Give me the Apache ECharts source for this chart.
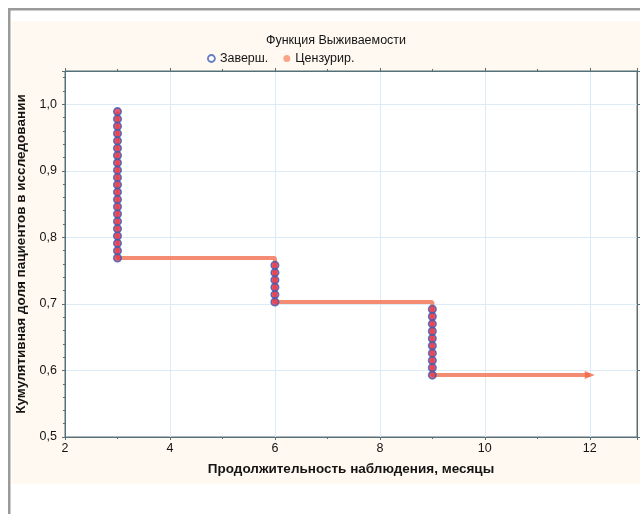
<!DOCTYPE html>
<html>
<head>
<meta charset="utf-8">
<script src="https://cdn.jsdelivr.net/npm/echarts@6/dist/echarts.min.js"></script>
<style>
html,body{margin:0;padding:0;background:#fff;}
#c{width:640px;height:514px;}
</style>
</head>
<body>
<div id="c"></div>
<script>
// Data
const titleText = 'Функция Выживаемости';
const xAxisName = 'Продолжительность наблюдения, месяцы';
const yAxisName = 'Кумулятивная доля пациентов в исследовании';
const completeName = 'Заверш.';
const censoredName = 'Цензурир.';
// completed events (x = month, y = cumulative survival)
const completeX3 = [0.989,0.978,0.967,0.956,0.945,0.934,0.923,0.912,0.901,0.890,0.879,0.868,0.857,0.846,0.835,0.824,0.813,0.802,0.791,0.780,0.769];
const completeX6 = [0.758,0.747,0.736,0.725,0.714,0.703];
const completeX9 = [0.692,0.681,0.670,0.659,0.648,0.637,0.626,0.615,0.604,0.593];
const eventTimes = [3, 6, 9];
// survival step curve
const stepX = [3, 3, 6, 6, 9, 9, 12];
const stepY = [0.989, 0.769, 0.769, 0.703, 0.703, 0.593, 0.593];
// censored observation
const censoredX = [12];
const censoredY = [0.593];

const completeGroups = [completeX3, completeX6, completeX9];
const completeData = [];
completeGroups.forEach((g, i) => g.forEach(v => completeData.push([eventTimes[i], v])));
const stepData = stepX.map((x, i) => [x, stepY[i]]);
const censData = censoredX.map((x, i) => [x, censoredY[i]]);

const axisColor = '#56707a';
const gridColor = '#dcebf5';
const txt = '#141414';
const font = 'Liberation Sans, Arial, sans-serif';

const chart = echarts.init(document.getElementById('c'));
chart.setOption({
  animation: false,
  textStyle: {fontFamily: font},
  graphic: [
    {type: 'rect', z: -10, shape: {x: 12, y: 21, width: 628, height: 463}, style: {fill: '#fff9f1'}},
    {type: 'rect', z: -9, shape: {x: 8, y: 8, width: 2.5, height: 506}, style: {fill: '#9a9a9a'}},
    {type: 'rect', z: -9, shape: {x: 8, y: 8, width: 632, height: 2.5}, style: {fill: '#9a9a9a'}}
  ],
  title: {
    text: titleText, left: 331, top: 29, textAlign: 'center',
    textStyle: {fontSize: 12.5, fontWeight: 'normal', color: txt, fontFamily: font}
  },
  legend: {
    left: 202, top: 47, itemWidth: 7, itemHeight: 7, itemGap: 15,
    textStyle: {fontSize: 12.5, color: txt, fontFamily: font},
    data: [
      {name: completeName, icon: 'circle', itemStyle: {color: '#ffffff', borderColor: '#3b5fb5', borderWidth: 1.8}},
      {name: censoredName, icon: 'circle', itemStyle: {color: '#f8906e', borderWidth: 0}}
    ]
  },
  grid: {left: 65, right: 3, top: 71, bottom: 77, show: true, backgroundColor: '#ffffff', borderColor: axisColor, borderWidth: 1},
  xAxis: [{
    type: 'value', min: 2, max: 12.9, interval: 2,
    name: xAxisName, nameLocation: 'middle', nameGap: 25,
    nameTextStyle: {fontSize: 13.5, fontWeight: 'bold', color: txt, fontFamily: font},
    axisLine: {show: true, lineStyle: {color: axisColor}},
    axisTick: {show: true, length: 3, lineStyle: {color: axisColor}},
    minorTick: {show: true, splitNumber: 2, length: 2, lineStyle: {color: axisColor}},
    axisLabel: {fontSize: 12.5, color: txt, margin: 5, showMaxLabel: false,
      formatter: v => (Math.abs(v % 2) < 1e-9 ? String(v) : '')},
    splitLine: {show: true, lineStyle: {color: gridColor}}
  }, {
    type: 'value', min: 2, max: 12.9, interval: 2, position: 'top',
    axisLine: {show: true, lineStyle: {color: axisColor}},
    axisTick: {show: true, length: 3, lineStyle: {color: axisColor}},
    minorTick: {show: true, splitNumber: 2, length: 2, lineStyle: {color: axisColor}},
    axisLabel: {show: false}, splitLine: {show: false}
  }],
  yAxis: [{
    type: 'value', min: 0.5, max: 1.05, interval: 0.1,
    name: yAxisName, nameLocation: 'middle', nameGap: 34, nameRotate: 90,
    nameTextStyle: {fontSize: 13.5, fontWeight: 'bold', color: txt, fontFamily: font},
    axisLine: {show: true, lineStyle: {color: axisColor}},
    axisTick: {show: true, length: 3, lineStyle: {color: axisColor}},
    minorTick: {show: true, splitNumber: 5, length: 2, lineStyle: {color: axisColor}},
    axisLabel: {fontSize: 12.5, color: txt, margin: 8, showMaxLabel: false,
      formatter: v => (v > 1.0001 ? '' : v.toFixed(1).replace('.', ','))},
    splitLine: {show: true, lineStyle: {color: gridColor}}
  }, {
    type: 'value', min: 0.5, max: 1.05, interval: 0.1, position: 'right',
    axisLine: {show: true, lineStyle: {color: axisColor}},
    axisTick: {show: true, length: 3, lineStyle: {color: axisColor}},
    axisLabel: {show: false}, splitLine: {show: false}
  }],
  series: [
    {
      name: 'curve', type: 'line', data: stepData, symbol: 'none', z: 2,
      lineStyle: {color: '#f2785a', width: 4, opacity: 0.85},
      itemStyle: {color: '#f2785a'}
    },
    {
      name: censoredName, type: 'scatter', data: censData, symbol: 'triangle', symbolRotate: -90,
      symbolSize: [8, 10], z: 3, itemStyle: {color: '#f06848'}
    },
    {
      name: completeName, type: 'scatter', data: completeData, symbol: 'circle', symbolSize: 7.5, z: 4,
      itemStyle: {color: '#e3344c', borderColor: '#3b5fb5', borderWidth: 1.6}
    }
  ]
});
</script>
</body>
</html>
